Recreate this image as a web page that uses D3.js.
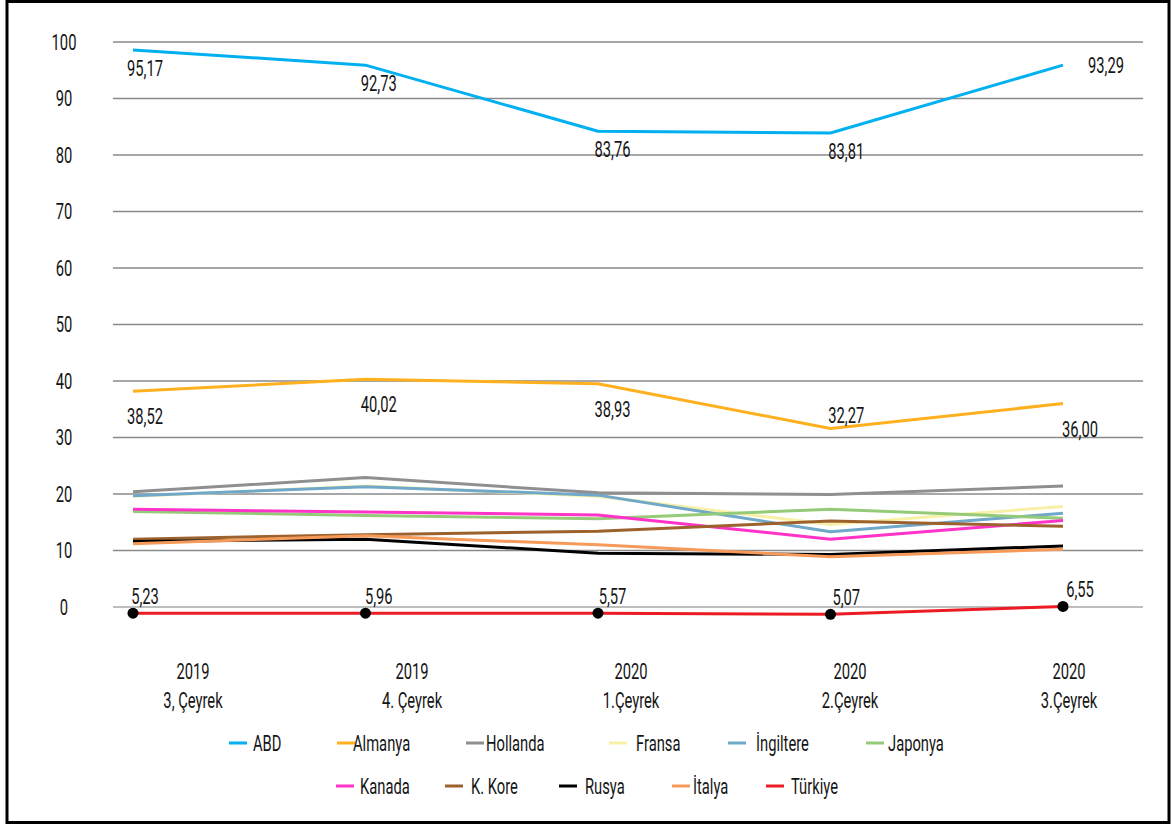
<!DOCTYPE html>
<html><head><meta charset="utf-8">
<script src="https://cdn.jsdelivr.net/npm/d3@7"></script>
<style>
body{margin:0;background:#fff;}
text{font-family:"Roboto","Liberation Sans",sans-serif;fill:#151515;font-size:22px;}
</style></head>
<body><svg id="c" width="1172" height="825"></svg>
<script>
// ---- data ----
const categories = ["2019\n3, Çeyrek","2019\n4. Çeyrek","2020\n1.Çeyrek","2020\n2.Çeyrek","2020\n3.Çeyrek"];
const yTicks = [0,10,20,30,40,50,60,70,80,90,100];
const seriesNames = ["ABD","Almanya","Hollanda","Fransa","İngiltere","Japonya","Kanada","K. Kore","Rusya","İtalya","Türkiye"];
const ABD      = [98.6, 95.9, 84.2, 83.9, 95.9];
const Almanya  = [38.2, 40.3, 39.5, 31.6, 36.0];
const Hollanda = [20.4, 22.9, 20.2, 19.9, 21.4];
const Fransa   = [19.6, 21.4, 19.6, 14.6, 17.8];
const Ingiltere= [19.7, 21.3, 19.8, 13.3, 16.6];
const Japonya  = [16.9, 16.2, 15.6, 17.3, 15.7];
const Kanada   = [17.3, 16.8, 16.3, 12.0, 15.3];
const KKore    = [12.0, 12.8, 13.4, 15.2, 14.3];
const Rusya    = [11.6, 12.0,  9.5,  9.3, 10.8];
const Italya   = [11.2, 12.6, 11.0,  8.9, 10.2];
const Turkiye  = [-1.1, -1.1, -1.1, -1.3,  0.1];
// data label texts shown on the chart
const labelsABD     = ["95,17","92,73","83,76","83,81","93,29"];
const labelsAlmanya = ["38,52","40,02","38,93","32,27","36,00"];
const labelsTurkiye = ["5,23","5,96","5,57","5,07","6,55"];

const colors = ["#00b0f0","#ffb01f","#8f8f8f","#f7f0a6","#6fa8c9","#95cb78","#ff33c8","#9c612d","#000000","#f59a58","#ed1c24"];
const seriesValues = [ABD,Almanya,Hollanda,Fransa,Ingiltere,Japonya,Kanada,KKore,Rusya,Italya,Turkiye];

// ---- drawing ----
const SX = 0.67; // condensed look
function txt(g, x, y, s, anchor){
  return g.append("text").attr("transform",`translate(${x},${y}) scale(${SX},1)`)
    .attr("text-anchor",anchor||"middle").attr("dy","0.36em").text(s);
}
const svg = d3.select("#c");
svg.append("rect").attr("x",7).attr("y",1.5).attr("width",1162).attr("height",821)
  .attr("fill","#fff").attr("stroke","#000").attr("stroke-width",3);

const y = d3.scaleLinear().domain([0,100]).range([607,42]);
const x = d3.scalePoint().domain(categories).range([133,1063]);
const xTick = d3.scalePoint().domain(categories).range([193,1069]);
const xLab = d3.scalePoint().domain(categories).range([145,1080]);

// grid
svg.append("g").selectAll("line").data(yTicks).join("line")
  .attr("x1",113).attr("x2",1143).attr("y1",d=>y(d)).attr("y2",d=>y(d))
  .attr("stroke",d=>d===0?"#a8a8a8":"#8a8a8a").attr("stroke-width",1.5);
// y axis labels
const gy = svg.append("g");
yTicks.forEach(d=>txt(gy, 64, y(d), d));
// x axis labels
const gx = svg.append("g");
categories.forEach(d=>{
  d.split("\n").forEach((p,i)=>txt(gx, xTick(d), 671+i*29, p));
});

// lines
const line = d3.line().x((d,i)=>x(categories[i])).y(d=>y(d));
const gl = svg.append("g");
seriesValues.forEach((vals,k)=>{
  gl.append("path").attr("d",line(vals)).attr("fill","none")
    .attr("stroke",colors[k]).attr("stroke-width",3).attr("stroke-linejoin","round");
});
// Türkiye markers
svg.append("g").selectAll("circle").data(Turkiye).join("circle")
  .attr("cx",(d,i)=>x(categories[i])).attr("cy",d=>y(d)).attr("r",5.5).attr("fill","#000");

// data labels
const lg = svg.append("g");
labelsABD.forEach((t,i)=>{
  const last = i===labelsABD.length-1;
  txt(lg, last ? x(categories[i])+43 : xLab(categories[i]), y(ABD[i]) + (last?0:18), t);
});
const almMin = d3.min(Almanya);
labelsAlmanya.forEach((t,i)=>{
  txt(lg, xLab(categories[i]), y(Almanya[i]) + (Almanya[i]===almMin ? -13 : 25), t);
});
labelsTurkiye.forEach((t,i)=>{
  txt(lg, xLab(categories[i]), y(Turkiye[i]) - 17, t);
});

// legend
const legendLayout = [
  {x:229,tx:253,row:0},{x:337,tx:353,row:0},{x:466,tx:486,row:0},{x:609,tx:636,row:0},{x:728,tx:756,row:0},{x:866,tx:888,row:0},
  {x:336,tx:360,row:1},{x:445,tx:471,row:1},{x:559,tx:585,row:1},{x:672,tx:693,row:1},{x:766,tx:791,row:1}
];
const leg = svg.append("g");
seriesNames.forEach((n,k)=>{
  const L = legendLayout[k];
  const cy = L.row===0 ? 743 : 786;
  leg.append("line").attr("x1",L.x).attr("x2",L.x+18).attr("y1",cy).attr("y2",cy)
    .attr("stroke",colors[k]).attr("stroke-width",3);
  txt(leg, L.tx, cy, n, "start");
});
</script></body></html>
